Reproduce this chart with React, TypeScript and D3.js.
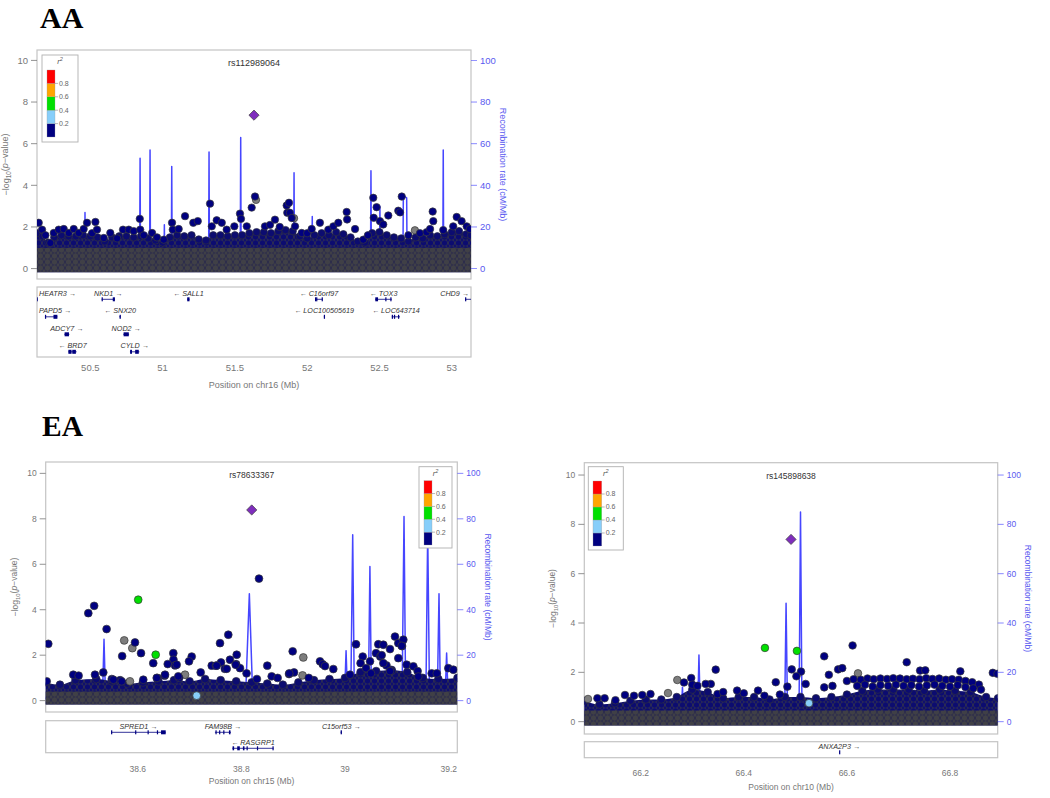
import React from "react";
import * as d3 from "d3";

// ---------------- DATA ----------------
// point: [position (Mb), -log10 p, LD class]  class: -1 = no LD (gray), 0 = <0.2, 1 = 0.2-0.4, 2 = 0.4-0.6
type Pt = [number, number, number];
type XY = [number, number];
type Gene = { name: string; start: number; end: number; strand: number; row: number; exons: XY[] };

const aaLead: XY = [51.632, 7.37];
const aaPoints: Pt[] = [
  [50.143, 2.2, 0], [50.166, 1.87, 0], [50.189, 1.6, 0], [50.223, 1.23, 0], [50.247, 1.71, 0], [50.281, 1.87, 0],
  [50.316, 1.9, 0], [50.351, 1.71, 0], [50.385, 1.9, 0], [50.42, 1.71, 0], [50.454, 1.9, 0], [50.477, 2.2, 0],
  [50.512, 1.7, 0], [50.535, 2.24, 0], [50.546, 1.87, 0], [50.593, 1.47, 0], [50.638, 1.71, 0], [50.685, 1.45, 0],
  [50.726, 1.87, 0], [50.766, 1.87, 0], [50.8, 1.8, 0], [50.842, 2.39, 0], [50.845, 1.87, 0], [50.869, 1.6, 0],
  [50.927, 1.71, 0], [50.961, 1.5, 0], [51.008, 1.39, 0], [51.065, 2.2, 0], [51.07, 1.87, 0], [51.111, 1.9, 0],
  [51.155, 2.52, 0], [51.212, 2.2, 0], [51.243, 2.28, 0], [51.328, 3.12, 0], [51.34, 2.03, 0], [51.374, 2.32, 0],
  [51.409, 2.2, 0], [51.443, 1.87, 0], [51.496, 2.03, 0], [51.535, 2.64, 0], [51.542, 2.39, 0], [51.582, 2.03, 0],
  [51.616, 2.93, 0], [51.646, 3.3, -1], [51.639, 3.46, 0], [51.708, 2.03, 0], [51.743, 2.1, 0], [51.777, 2.35, 0],
  [51.81, 2.0, 0], [51.858, 3.03, 0], [51.874, 3.16, 0], [51.862, 2.68, 0], [51.88, 2.68, 0], [51.909, 2.42, -1],
  [51.893, 2.43, 0], [51.916, 2.03, 0], [51.962, 1.71, 0], [52.0, 1.7, 0], [52.031, 1.9, 0], [52.088, 2.2, 0],
  [52.146, 1.87, 0], [52.181, 2.03, 0], [52.215, 2.2, 0], [52.273, 2.72, 0], [52.276, 2.36, 0], [52.331, 1.9, 0],
  [52.388, 1.39, 0], [52.42, 1.6, 0], [52.457, 3.4, 0], [52.48, 2.95, 0], [52.46, 2.44, 0], [52.503, 2.28, 0],
  [52.526, 2.12, 0], [52.561, 2.55, 0], [52.63, 2.78, 0], [52.654, 3.46, 0], [52.642, 2.7, 0], [52.7, 1.6, 0],
  [52.745, 1.84, -1], [52.78, 1.7, 0], [52.826, 1.75, 0], [52.868, 2.74, 0], [52.872, 2.28, 0], [52.85, 1.9, 0],
  [52.941, 1.85, 0], [53.01, 2.03, 0], [53.034, 2.48, 0], [53.068, 2.28, 0], [53.103, 2.03, 0], [53.125, 1.9, 0],
];
const aaMass: XY[] = [
  [50.13, 1.7], [50.17, 1.55], [50.21, 1.25], [50.25, 1.5], [50.3, 1.6], [50.35, 1.55], [50.4, 1.55], [50.45, 1.6],
  [50.5, 1.55], [50.55, 1.5], [50.6, 1.3], [50.65, 1.5], [50.7, 1.55], [50.75, 1.55], [50.8, 1.5], [50.85, 1.55],
  [50.9, 1.45], [50.95, 1.35], [51.0, 1.25], [51.05, 1.5], [51.1, 1.6], [51.15, 1.55], [51.2, 1.6], [51.25, 1.4],
  [51.3, 1.35], [51.35, 1.6], [51.4, 1.6], [51.45, 1.55], [51.5, 1.6], [51.55, 1.6], [51.6, 1.7], [51.65, 1.75],
  [51.7, 1.75], [51.75, 1.7], [51.8, 1.8], [51.85, 1.85], [51.9, 1.8], [51.95, 1.55], [52.0, 1.45], [52.05, 1.6],
  [52.1, 1.7], [52.15, 1.6], [52.2, 1.75], [52.25, 1.65], [52.3, 1.5], [52.35, 1.3], [52.4, 1.25], [52.45, 1.7],
  [52.5, 1.75], [52.55, 1.6], [52.6, 1.5], [52.65, 1.45], [52.7, 1.3], [52.75, 1.5], [52.8, 1.45], [52.85, 1.6],
  [52.9, 1.55], [52.95, 1.65], [53.0, 1.75], [53.05, 1.8], [53.1, 1.65], [53.133, 1.6],
];
const aaRecomb: XY[] = [
  [50.13, 2], [50.46, 2], [50.463, 27], [50.466, 2], [50.841, 3], [50.844, 53], [50.847, 3], [50.887, 2], [50.89, 17],
  [50.893, 2], [50.91, 3], [50.913, 57], [50.916, 3], [51.009, 2], [51.012, 21], [51.015, 2], [51.06, 2], [51.063, 49],
  [51.066, 3], [51.318, 2], [51.321, 56], [51.324, 3], [51.537, 3], [51.54, 63], [51.543, 2], [51.906, 2], [51.909, 46],
  [51.912, 3], [52.032, 2], [52.035, 25], [52.038, 2], [52.438, 3], [52.441, 47], [52.444, 3], [52.5, 3], [52.503, 30],
  [52.506, 3], [52.662, 3], [52.665, 35], [52.688, 34], [52.691, 3], [52.938, 3], [52.941, 57], [52.944, 3], [53.133, 2],
];
const aaGenes: Gene[] = [
  { name: "HEATR3", start: 50.1, end: 50.133, strand: 1, row: 0, exons: [[50.128, 50.133]] },
  { name: "NKD1", start: 50.578, end: 50.67, strand: 1, row: 0, exons: [[50.578, 50.581], [50.655, 50.67]] },
  { name: "SALL1", start: 51.17, end: 51.186, strand: -1, row: 0, exons: [[51.17, 51.186]] },
  { name: "C16orf97", start: 52.054, end: 52.107, strand: -1, row: 0, exons: [[52.054, 52.058], [52.062, 52.066], [52.1, 52.103]] },
  { name: "TOX3", start: 52.47, end: 52.585, strand: -1, row: 0, exons: [[52.471, 52.49], [52.54, 52.543], [52.575, 52.58]] },
  { name: "CHD9", start: 53.092, end: 53.2, strand: 1, row: 0, exons: [[53.092, 53.095]] },
  { name: "PAPD5", start: 50.186, end: 50.272, strand: 1, row: 1, exons: [[50.186, 50.189], [50.245, 50.272]] },
  { name: "SNX20", start: 50.7, end: 50.711, strand: -1, row: 1, exons: [[50.702, 50.711]] },
  { name: "LOC100505619", start: 52.115, end: 52.119, strand: -1, row: 1, exons: [[52.115, 52.119]] },
  { name: "LOC643714", start: 52.585, end: 52.642, strand: -1, row: 1, exons: [[52.585, 52.59], [52.6, 52.603], [52.628, 52.632]] },
  { name: "ADCY7", start: 50.32, end: 50.355, strand: 1, row: 2, exons: [[50.322, 50.352]] },
  { name: "NOD2", start: 50.728, end: 50.768, strand: 1, row: 2, exons: [[50.73, 50.766]] },
  { name: "BRD7", start: 50.348, end: 50.405, strand: -1, row: 3, exons: [[50.348, 50.37], [50.375, 50.4]] },
  { name: "CYLD", start: 50.774, end: 50.839, strand: 1, row: 3, exons: [[50.775, 50.788], [50.81, 50.835]] },
];

const eaLLead: XY = [38.82, 8.39];
const eaLPoints: Pt[] = [
  [38.4275, 2.5, 0], [38.5047, 3.85, 0], [38.516, 4.17, 0], [38.54, 3.15, 0], [38.574, 2.65, -1], [38.5896, 2.31, -1],
  [38.5948, 2.56, 0], [38.57, 1.96, 0], [38.6064, 2.09, 0], [38.63, 1.65, 0], [38.6687, 2.09, 0], [38.669, 1.8, 0],
  [38.6579, 1.61, 0], [38.672, 1.55, 0], [38.7042, 1.94, 0], [38.699, 1.73, 0], [38.6913, 1.14, -1], [38.7215, 1.24, 0],
  [38.7588, 2.53, 0], [38.7748, 2.9, 0], [38.7607, 1.68, 0], [38.7428, 1.54, 0], [38.751, 1.54, 0], [38.778, 1.8, 0],
  [38.791, 2.02, 0], [38.79, 1.6, 0], [38.7974, 1.43, 0], [38.768, 1.4, 0], [38.585, 0.85, -1], [38.4244, 0.85, 0],
  [38.4757, 1.14, 0], [38.486, 1.1, 0], [38.5176, 1.14, 0], [38.5336, 1.24, 0], [38.55, 0.95, 0], [38.566, 0.9, 0],
  [38.6108, 0.92, 0], [38.638, 1.0, 0], [38.652, 1.1, 0], [38.68, 1.0, 0], [38.899, 2.17, 0], [38.9195, 1.9, -1],
  [38.85, 1.54, 0], [38.8585, 1.07, 0], [38.9016, 1.24, 0], [38.892, 1.17, 0], [38.9517, 1.73, 0], [38.957, 1.6, 0],
  [38.9774, 1.39, 0], [39.0212, 2.48, 0], [39.0341, 1.94, 0], [39.03, 1.65, 0], [39.0482, 1.73, 0], [39.0642, 2.48, 0],
  [39.0598, 2.09, 0], [39.068, 1.94, 0], [39.0739, 2.46, 0], [39.0868, 2.27, 0], [39.0964, 2.82, 0], [39.1028, 2.53, 0],
  [39.1125, 2.68, 0], [39.11, 2.4, 0], [39.1028, 1.87, 0], [39.119, 1.58, 0], [39.1318, 1.51, 0], [39.1672, 1.2, 0],
  [39.177, 1.2, 0], [39.1993, 1.43, 0], [39.209, 1.36, 0], [39.0096, 1.14, 0], [39.0405, 1.43, 0], [39.08, 1.55, 0],
  [39.09, 1.3, 0], [39.14, 1.3, 0], [39.05, 1.2, 0], [38.918, 1.11, -1], [38.834, 5.37, 0], [38.81, 1.2, 0],
  [38.83, 0.95, 0], [38.87, 1.0, 0], [38.93, 1.0, 0],
  [39.0739, 1.65, 0], [39.0868, 1.3, 0], [39.1414, 1.06, 0], [38.9614, 1.52, 0], [38.8925, 1.2, 0], [39.0707, 2.0, 0],
  [39.1093, 2.41, 0], [38.7524, 1.54, 0], [38.7717, 1.4, 0], [38.789, 1.58, 0], [38.6752, 1.58, 0], [38.6367, 1.0, 0],
  [38.6527, 1.14, 0], [38.6783, 1.07, 0], [38.553, 0.92, 0], [38.5691, 0.85, 0],
  [38.7138, 0.22, 1], [38.601, 4.44, 2], [38.6347, 2.02, 2],
];
const eaLMass: XY[] = [
  [38.42, 0.8], [38.45, 0.7], [38.48, 0.9], [38.52, 0.95], [38.55, 0.85], [38.58, 0.75], [38.61, 0.8], [38.64, 0.85],
  [38.67, 0.9], [38.7, 0.85], [38.73, 0.95], [38.76, 0.9], [38.79, 0.85], [38.82, 0.8], [38.85, 0.75], [38.88, 0.7],
  [38.91, 0.8], [38.94, 0.9], [38.97, 0.95], [39.0, 1.0], [39.03, 1.25], [39.06, 1.3], [39.09, 1.35], [39.12, 1.25],
  [39.15, 1.0], [39.18, 0.95], [39.217, 1.0],
];
const eaLRecomb: XY[] = [
  [38.42, 1], [38.532, 1], [38.535, 27], [38.538, 1], [38.808, 1], [38.8154, 47], [38.822, 1], [38.999, 1], [39.002, 22],
  [39.005, 1], [39.011, 1], [39.0148, 73], [39.018, 1], [39.045, 1], [39.048, 59], [39.051, 1], [39.11, 1], [39.1138, 81],
  [39.117, 1], [39.156, 1], [39.1595, 75], [39.163, 1], [39.178, 1], [39.1813, 47], [39.184, 1], [39.193, 1], [39.196, 21],
  [39.199, 1], [39.217, 1],
];
const eaLGenes: Gene[] = [
  { name: "SPRED1", start: 38.5486, end: 38.654, strand: 1, row: 0, exons: [[38.5486, 38.5495], [38.595, 38.597], [38.619, 38.621], [38.637, 38.639], [38.645, 38.654]] },
  { name: "FAM98B", start: 38.749, end: 38.78, strand: 1, row: 0, exons: [[38.75, 38.752], [38.757, 38.759], [38.765, 38.767], [38.776, 38.779]] },
  { name: "C15orf53", start: 38.9915, end: 38.994, strand: 1, row: 0, exons: [[38.9915, 38.994]] },
  { name: "RASGRP1", start: 38.7826, end: 38.862, strand: -1, row: 1, exons: [[38.783, 38.786], [38.792, 38.797], [38.803, 38.806], [38.81, 38.812], [38.83, 38.832], [38.86, 38.862]] },
];

const eaRLead: XY = [66.4916, 7.39];
const eaRPoints: Pt[] = [
  [66.0978, 0.92, -1], [66.116, 0.95, 0], [66.13, 0.95, 0], [66.151, 0.87, 0], [66.1695, 1.08, 0], [66.187, 1.05, 0],
  [66.203, 1.08, 0], [66.219, 1.12, 0], [66.253, 1.16, -1], [66.271, 1.69, -1], [66.284, 1.59, 0], [66.298, 1.77, 0],
  [66.3, 1.5, 0], [66.31, 1.45, 0], [66.3455, 2.11, 0], [66.336, 1.53, 0], [66.326, 1.53, 0], [66.349, 1.12, 0],
  [66.36, 1.2, 0], [66.387, 1.26, 0], [66.4, 1.15, 0], [66.4276, 1.26, 0], [66.44, 1.05, 0], [66.462, 1.6, 0],
  [66.47, 1.1, 0], [66.4845, 1.42, 0], [66.493, 2.12, 0], [66.511, 2.03, 0], [66.502, 1.84, 0], [66.52, 1.53, 0],
  [66.556, 2.65, 0], [66.565, 1.9, 0], [66.583, 2.12, 0], [66.591, 2.17, 0], [66.556, 1.39, 0], [66.572, 1.45, 0],
  [66.611, 3.09, 0], [66.6215, 1.96, -1], [66.716, 2.41, 0], [66.742, 2.07, 0], [66.752, 2.08, 0], [66.82, 2.04, 0],
  [66.883, 1.98, 0], [66.892, 1.94, 0],
  [66.6, 1.65, 0], [66.613, 1.72, 0], [66.627, 1.7, 0], [66.64, 1.75, 0], [66.652, 1.72, 0], [66.665, 1.75, 0],
  [66.678, 1.73, 0], [66.69, 1.76, 0], [66.703, 1.75, 0], [66.716, 1.72, 0], [66.728, 1.74, 0], [66.741, 1.72, 0],
  [66.754, 1.76, 0], [66.766, 1.73, 0], [66.779, 1.75, 0], [66.792, 1.7, 0], [66.804, 1.72, 0], [66.817, 1.7, 0],
  [66.83, 1.65, 0], [66.843, 1.6, 0], [66.856, 1.5, 0],
  [66.62, 1.45, 0], [66.635, 1.5, 0], [66.65, 1.42, 0], [66.665, 1.48, 0], [66.68, 1.45, 0], [66.695, 1.5, 0],
  [66.71, 1.45, 0], [66.725, 1.48, 0], [66.74, 1.42, 0], [66.755, 1.47, 0], [66.77, 1.5, 0], [66.785, 1.45, 0],
  [66.8, 1.42, 0], [66.815, 1.48, 0], [66.83, 1.4, 0], [66.845, 1.35, 0], [66.86, 1.3, 0],
  [66.5265, 0.75, 1], [66.441, 2.99, 2], [66.503, 2.87, 2],
];
const eaRMass: XY[] = [
  [66.09, 0.85], [66.12, 0.7], [66.15, 0.75], [66.18, 0.85], [66.21, 0.9], [66.24, 0.9], [66.27, 1.0], [66.3, 1.3],
  [66.33, 1.2], [66.36, 0.95], [66.39, 1.0], [66.42, 1.0], [66.45, 0.9], [66.48, 1.0], [66.51, 1.0], [66.54, 0.95],
  [66.57, 1.0], [66.6, 1.1], [66.63, 1.25], [66.66, 1.3], [66.69, 1.3], [66.72, 1.3], [66.75, 1.25], [66.78, 1.3],
  [66.81, 1.25], [66.84, 1.2], [66.87, 1.0], [66.893, 0.95],
];
const eaRRecomb: XY[] = [
  [66.09, 0], [66.278, 0], [66.281, 14], [66.284, 0], [66.31, 0], [66.313, 27], [66.316, 0], [66.479, 0], [66.482, 48],
  [66.485, 0], [66.507, 0], [66.51, 85], [66.513, 0], [66.893, 0],
];
const eaRGenes: Gene[] = [
  { name: "ANXA2P3", start: 66.5848, end: 66.5858, strand: 1, row: 0, exons: [[66.5848, 66.5858]] },
];

const yTicks = [0, 2, 4, 6, 8, 10];
const rTicks = [0, 20, 40, 60, 80, 100];
const legendBreaks = ["0.2", "0.4", "0.6", "0.8"];

// ---------------- STYLE ----------------
const LD_COLORS = ["#000080", "#87CEFA", "#00E000", "#FFA500", "#FF0000"];
const GRAY_PT = "#7d7d7d";
const LEAD_COLOR = "#7f2dbd";
const RECOMB = "#4646ff";
const AXIS_GRAY = "#777";
const SANS = "'Liberation Sans', Arial, sans-serif";

type Cfg = {
  id: string; snp: string; chrom: string;
  xDomain: [number, number]; xTicks: number[];
  box: { x0: number; x1: number; y0: number; y1: number };
  gene: { y0: number; y1: number; first: number; step: number };
  tickY: number; titleY: number; leftTitleX: number; rightTitleX: number;
  font: number; tickFont: number;
  legend: { x0: number; y0: number; x1: number; y1: number; bx: number; by: number; bw: number; bh: number };
  r: number; grayBand: number;
  lead: XY; points: Pt[]; mass: XY[]; recomb: XY[]; genes: Gene[];
};

function colorOf(c: number) {
  return c < 0 ? GRAY_PT : LD_COLORS[c];
}

function Panel({ cfg }: { cfg: Cfg }) {
  const { box, legend: lg } = cfg;
  const x = d3.scaleLinear().domain(cfg.xDomain).range([box.x0, box.x1]);
  const y = d3.scaleLinear().domain([-0.5, 10.5]).range([box.y1, box.y0]);
  const yr = d3.scaleLinear().domain([-5, 105]).range([box.y1, box.y0]);
  const recombLine = d3.line<XY>().x((d) => x(d[0])).y((d) => yr(d[1]))(cfg.recomb) || "";
  const base = y(0) + cfg.r;
  const massArea = d3.area<XY>().x((d) => x(d[0])).y0(base).y1((d) => y(d[1])).curve(d3.curveMonotoneX)(cfg.mass) || "";
  const grayArea = d3.area<XY>().x((d) => x(d[0])).y0(base).y1((d) => y(Math.min(d[1], cfg.grayBand))).curve(d3.curveMonotoneX)(cfg.mass) || "";
  const diamond = d3.symbol(d3.symbolSquare, 52)() || "";
  const sorted = [...cfg.points].sort((a, b) => a[2] - b[2]);
  const cx = (box.x0 + box.x1) / 2;
  const cy = (box.y0 + box.y1) / 2;
  const gFont = 7.2;

  const boxH = lg.bh / 5;
  return (
    <g>
      <defs>
        <clipPath id={`clip-${cfg.id}`}>
          <rect x={box.x0} y={box.y0} width={box.x1 - box.x0} height={box.y1 - box.y0} />
        </clipPath>
        <clipPath id={`gclip-${cfg.id}`}>
          <rect x={box.x0} y={cfg.gene.y0} width={box.x1 - box.x0} height={cfg.gene.y1 - cfg.gene.y0} />
        </clipPath>
        <pattern id={`navy-${cfg.id}`} width={7} height={6} patternUnits="userSpaceOnUse">
          <rect width={7} height={6} fill="#262648" />
          {[[0, 0], [7, 0], [0, 6], [7, 6], [3.5, 3]].map(([a, b], i) => (
            <circle key={i} cx={a} cy={b} r={3.2} fill="#0c0c70" stroke="#33334a" strokeWidth={0.7} />
          ))}
        </pattern>
        <pattern id={`gray-${cfg.id}`} width={7} height={6} patternUnits="userSpaceOnUse" patternTransform="translate(2,1)">
          <rect width={7} height={6} fill="#36363a" />
          {[[0, 0], [7, 0], [0, 6], [7, 6], [3.5, 3]].map(([a, b], i) => (
            <circle key={i} cx={a} cy={b} r={3.1} fill="#404046" stroke="#23234c" strokeWidth={0.6} />
          ))}
        </pattern>
      </defs>

      <rect x={box.x0} y={box.y0} width={box.x1 - box.x0} height={box.y1 - box.y0} fill="white" stroke="#c4c4c4" strokeWidth={1.2} />

      <g clipPath={`url(#clip-${cfg.id})`}>
        <path d={recombLine} fill="none" stroke={RECOMB} strokeWidth={1.5} strokeLinejoin="round" />
        <path d={massArea} fill={`url(#navy-${cfg.id})`} />
        {cfg.mass.map((d, i) => (
          <circle key={"m" + i} cx={x(d[0])} cy={y(d[1])} r={cfg.r} fill="#0c0c70" stroke="#2d2d45" strokeWidth={0.7} />
        ))}
        <path d={grayArea} fill={`url(#gray-${cfg.id})`} />
        {sorted.map((d, i) => (
          <circle key={"p" + i} cx={x(d[0])} cy={y(d[1])} r={cfg.r} fill={colorOf(d[2])} stroke="#3a3a3a" strokeWidth={0.7} />
        ))}
        <path d={diamond} transform={`translate(${x(cfg.lead[0])},${y(cfg.lead[1])}) rotate(45)`} fill={LEAD_COLOR} stroke="#444" strokeWidth={0.7} />
      </g>

      <text x={x(cfg.lead[0])} y={box.y0 + 16} textAnchor="middle" fontFamily={SANS} fontSize={cfg.font} fill="#333">
        {cfg.snp}
      </text>

      {yTicks.map((t) => (
        <g key={"yl" + t}>
          <line x1={box.x0 - 6} x2={box.x0} y1={y(t)} y2={y(t)} stroke={AXIS_GRAY} strokeWidth={0.8} />
          <text x={box.x0 - 9} y={y(t)} dy="0.35em" textAnchor="end" fontFamily={SANS} fontSize={cfg.tickFont} fill={AXIS_GRAY}>
            {t}
          </text>
        </g>
      ))}
      <text transform={`translate(${cfg.leftTitleX},${cy}) rotate(-90)`} textAnchor="middle" dy="0.35em" fontFamily={SANS} fontSize={cfg.font} fill={AXIS_GRAY}>
        {"\u2212log"}
        <tspan fontSize={cfg.font * 0.7} dy="0.3em">10</tspan>
        <tspan dy="-0.3em">(</tspan>
        <tspan fontStyle="italic">p</tspan>
        {"\u2212value)"}
      </text>

      {rTicks.map((t) => (
        <g key={"yr" + t}>
          <line x1={box.x1} x2={box.x1 + 6} y1={yr(t)} y2={yr(t)} stroke={RECOMB} strokeWidth={0.8} opacity={0.8} />
          <text x={box.x1 + 9} y={yr(t)} dy="0.35em" textAnchor="start" fontFamily={SANS} fontSize={cfg.tickFont} fill="#5a5af0">
            {t}
          </text>
        </g>
      ))}
      <text transform={`translate(${cfg.rightTitleX},${cy}) rotate(90)`} textAnchor="middle" dy="0.35em" fontFamily={SANS} fontSize={cfg.font} fill="#5a5af0">
        Recombination rate (cM/Mb)
      </text>

      <rect x={lg.x0} y={lg.y0} width={lg.x1 - lg.x0} height={lg.y1 - lg.y0} fill="white" stroke="#b0b0b0" strokeWidth={0.9} />
      <text x={(lg.x0 + lg.x1) / 2} y={lg.y0 + 9} textAnchor="middle" fontFamily={SANS} fontSize={7.5} fontStyle="italic" fill="#555">
        r<tspan fontSize={5.5} dy="-3">2</tspan>
      </text>
      {LD_COLORS.map((c, i) => (
        <rect key={"lc" + i} x={lg.bx} y={lg.by + lg.bh - (i + 1) * boxH} width={lg.bw} height={boxH} fill={c} stroke="#999" strokeWidth={0.3} />
      ))}
      {legendBreaks.map((b, i) => {
        const yy = lg.by + lg.bh - (i + 1) * boxH;
        return (
          <g key={"lb" + i}>
            <line x1={lg.bx + lg.bw} x2={lg.bx + lg.bw + 3} y1={yy} y2={yy} stroke="#888" strokeWidth={0.6} />
            <text x={lg.bx + lg.bw + 4} y={yy} dy="0.35em" fontFamily={SANS} fontSize={7} fill="#666">
              {b}
            </text>
          </g>
        );
      })}

      <rect x={box.x0} y={cfg.gene.y0} width={box.x1 - box.x0} height={cfg.gene.y1 - cfg.gene.y0} fill="white" stroke="#c4c4c4" strokeWidth={1.2} />
      <g clipPath={`url(#gclip-${cfg.id})`}>
        {cfg.genes.map((g) => {
          const gy = cfg.gene.y0 + cfg.gene.first + g.row * cfg.gene.step;
          return (
            <g key={g.name}>
              <line x1={x(g.start)} x2={x(g.end)} y1={gy} y2={gy} stroke="#000080" strokeWidth={0.8} />
              {g.exons.map((e, i) => (
                <rect key={i} x={x(e[0])} y={gy - 2} width={Math.max(1.2, x(e[1]) - x(e[0]))} height={4} fill="#000080" />
              ))}
            </g>
          );
        })}
      </g>
      {cfg.genes.map((g) => {
        const gy = cfg.gene.y0 + cfg.gene.first + g.row * cfg.gene.step;
        const label = g.strand > 0 ? `${g.name} \u2192` : `\u2190 ${g.name}`;
        const w = label.length * gFont * 0.62;
        const mid = x((g.start + g.end) / 2);
        let tx = mid;
        let anchor: "middle" | "start" | "end" = "middle";
        if (mid - w / 2 < box.x0 + 2) { tx = box.x0 + 2; anchor = "start"; }
        else if (mid + w / 2 > box.x1 - 2) { tx = box.x1 - 2; anchor = "end"; }
        return (
          <text key={"gl" + g.name} x={tx} y={gy - 3.5} textAnchor={anchor} fontFamily={SANS} fontSize={gFont} fontStyle="italic" fill="#333">
            {label}
          </text>
        );
      })}

      {cfg.xTicks.map((t) => (
        <text key={"xt" + t} x={x(t)} y={cfg.tickY} dy="0.35em" textAnchor="middle" fontFamily={SANS} fontSize={cfg.tickFont} fill={AXIS_GRAY}>
          {String(t)}
        </text>
      ))}
      <text x={cx} y={cfg.titleY} dy="0.35em" textAnchor="middle" fontFamily={SANS} fontSize={cfg.font} fill={AXIS_GRAY}>
        {`Position on ${cfg.chrom} (Mb)`}
      </text>
    </g>
  );
}

const panels: Cfg[] = [
  {
    id: "aa", snp: "rs112989064", chrom: "chr16",
    xDomain: [50.131, 53.133], xTicks: [50.5, 51, 51.5, 52, 52.5, 53],
    box: { x0: 37, x1: 471, y0: 50, y1: 279 },
    gene: { y0: 287, y1: 357, first: 12.3, step: 17.5 },
    tickY: 368, titleY: 385, leftTitleX: 6, rightTitleX: 503, font: 9, tickFont: 9.5,
    legend: { x0: 42, y0: 55, x1: 78, y1: 142, bx: 47, by: 70, bw: 8, bh: 67 },
    r: 3.7, grayBand: 1.0,
    lead: aaLead, points: aaPoints, mass: aaMass, recomb: aaRecomb, genes: aaGenes,
  },
  {
    id: "eal", snp: "rs78633367", chrom: "chr15",
    xDomain: [38.4225, 39.2166], xTicks: [38.6, 38.8, 39, 39.2],
    box: { x0: 45.7, x1: 457.3, y0: 462, y1: 712 },
    gene: { y0: 720.7, y1: 752.7, first: 11.6, step: 16 },
    tickY: 769.5, titleY: 781, leftTitleX: 15, rightTitleX: 488, font: 8.5, tickFont: 8.5,
    legend: { x0: 419, y0: 466.7, x1: 452, y1: 548, bx: 424, by: 480.7, bw: 8, bh: 64.3 },
    r: 3.9, grayBand: 0.4,
    lead: eaLLead, points: eaLPoints, mass: eaLMass, recomb: eaLRecomb, genes: eaLGenes,
  },
  {
    id: "ear", snp: "rs145898638", chrom: "chr10",
    xDomain: [66.0906, 66.8925], xTicks: [66.2, 66.4, 66.6, 66.8],
    box: { x0: 584.3, x1: 997.7, y0: 462.7, y1: 734 },
    gene: { y0: 741.7, y1: 757.7, first: 10.6, step: 16 },
    tickY: 773.5, titleY: 787, leftTitleX: 553, rightTitleX: 1028, font: 8.5, tickFont: 8.5,
    legend: { x0: 588.3, y0: 466.7, x1: 623.3, y1: 550, bx: 593, by: 481, bw: 8.7, bh: 65 },
    r: 3.8, grayBand: 0.45,
    lead: eaRLead, points: eaRPoints, mass: eaRMass, recomb: eaRRecomb, genes: eaRGenes,
  },
];

export default function App() {
  return (
    <svg width={1050} height={798} style={{ position: "absolute", left: 0, top: 0, background: "white" }}>
      <rect width={1050} height={798} fill="white" />
      <text x={40} y={28} fontFamily="'Liberation Serif', 'Times New Roman', serif" fontWeight="bold" fontSize={30} fill="#000">AA</text>
      <text x={42} y={436} fontFamily="'Liberation Serif', 'Times New Roman', serif" fontWeight="bold" fontSize={29.5} fill="#000">EA</text>
      {panels.map((p) => (
        <Panel key={p.id} cfg={p} />
      ))}
    </svg>
  );
}
